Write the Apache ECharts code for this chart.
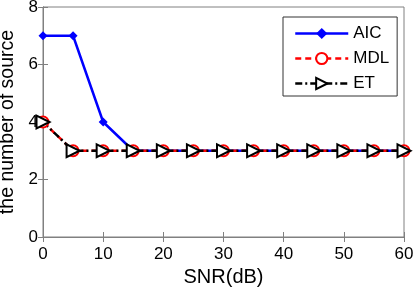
<!DOCTYPE html>
<html>
<head>
<meta charset="utf-8">
<script src="https://cdn.jsdelivr.net/npm/echarts@6/dist/echarts.min.js"></script>
<style>
  html, body { margin: 0; padding: 0; background: #fff; }
  #chart { width: 413px; height: 289px; }
</style>
</head>
<body>
<div id="chart"></div>
<script>
var snr = [0, 5, 10, 15, 20, 25, 30, 35, 40, 45, 50, 55, 60];
var aic = [7, 7, 4, 3, 3, 3, 3, 3, 3, 3, 3, 3, 3];
var mdl = [4, 3, 3, 3, 3, 3, 3, 3, 3, 3, 3, 3, 3];
var et  = [4, 3, 3, 3, 3, 3, 3, 3, 3, 3, 3, 3, 3];

function pairs(xs, ys) {
    return xs.map(function (x, i) { return [x, ys[i]]; });
}

var chart = echarts.init(document.getElementById('chart'));
var font = 'Liberation Sans, Arial, sans-serif';
var axisCommon = {
    axisLine: { show: true, lineStyle: { color: '#808080', width: 1 } },
    axisTick: { show: true, inside: true, length: 5, lineStyle: { color: '#808080' } },
    splitLine: { show: false },
    axisLabel: { color: '#000', fontSize: 17, fontFamily: font }
};

option = {
    animation: false,
    backgroundColor: '#fff',
    grid: {
        left: 43, right: 9, top: 7, bottom: 52,
        outerBoundsMode: 'none', containLabel: false,
        show: true, borderColor: '#808080', borderWidth: 1
    },
    legend: {
        orient: 'vertical',
        left: 283,
        top: 17,
        padding: [8, 8, 4, 11],
        itemGap: 8,
        itemWidth: 53,
        itemHeight: 14,
        backgroundColor: '#fff',
        borderColor: '#333',
        borderWidth: 1,
        borderRadius: 0,
        lineStyle: { width: 2.5 },
        textStyle: { color: '#000', fontSize: 17, fontFamily: font },
        data: ['AIC', 'MDL', 'ET']
    },
    xAxis: [
        Object.assign({}, axisCommon, {
            type: 'value', min: 0, max: 60, interval: 10,
            name: 'SNR(dB)', nameLocation: 'middle', nameGap: 29,
            nameTextStyle: { color: '#000', fontSize: 20, fontFamily: font },
            axisLabel: Object.assign({}, axisCommon.axisLabel, { margin: 9 })
        }),
        Object.assign({}, axisCommon, {
            type: 'value', min: 0, max: 60, interval: 10, position: 'top',
            axisLabel: { show: false }
        })
    ],
    yAxis: [
        Object.assign({}, axisCommon, {
            type: 'value', min: 0, max: 8, interval: 2,
            name: 'the number of source', nameLocation: 'middle', nameGap: 22,
            nameTextStyle: { color: '#000', fontSize: 19.5, fontFamily: font },
            axisLabel: Object.assign({}, axisCommon.axisLabel, { margin: 5 })
        }),
        Object.assign({}, axisCommon, {
            type: 'value', min: 0, max: 8, interval: 2, position: 'right',
            axisLabel: { show: false }
        })
    ],
    series: [
        {
            name: 'AIC', type: 'line', data: pairs(snr, aic),
            symbol: 'diamond', symbolSize: 9,
            lineStyle: { color: '#0000ff', width: 2.5 },
            itemStyle: { color: '#0000ff' }
        },
        {
            name: 'MDL', type: 'line', data: pairs(snr, mdl),
            symbol: 'emptyCircle', symbolSize: 11,
            lineStyle: { color: '#ff0000', width: 2.5, type: [6, 4] },
            itemStyle: { color: '#ff0000', borderWidth: 2.5 }
        },
        {
            name: 'ET', type: 'line', data: pairs(snr, et),
            symbol: 'emptyTriangle', symbolSize: 13, symbolRotate: -90,
            lineStyle: { color: '#000', width: 2.5, type: [7, 3, 2, 3] },
            itemStyle: { color: '#000', borderWidth: 2.5 }
        }
    ]
};

chart.setOption(option);
</script>
</body>
</html>
